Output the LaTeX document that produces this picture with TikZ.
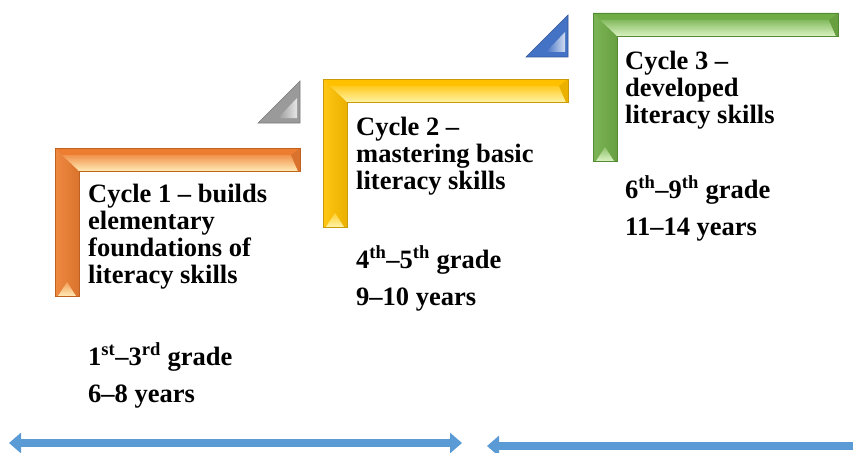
\documentclass[tikz,border=0pt]{standalone}
\usepackage{fontspec}
\setmainfont{Liberation Serif}
\usetikzlibrary{arrows.meta}

\definecolor{orBase}{HTML}{ED7D31}
\definecolor{orLight}{HTML}{FFEBB5}
\definecolor{orDark}{HTML}{C0621F}
\definecolor{yeBase}{HTML}{FFC000}
\definecolor{yeLight}{HTML}{FFF3A6}
\definecolor{yeDark}{HTML}{C99A0A}
\definecolor{grBase}{HTML}{70AD47}
\definecolor{grLight}{HTML}{D9F2C2}
\definecolor{grDark}{HTML}{548A33}
\definecolor{tgBase}{HTML}{9A9A9A}
\definecolor{tgDark}{HTML}{7A7A7A}
\definecolor{tbBase}{HTML}{4472C4}
\definecolor{tbDark}{HTML}{2F5597}
\definecolor{arrowBlue}{HTML}{5B9BD5}

% one bevelled corner step, top-left corner at (#1,#2)
\newcommand\cornerstep[5]{%
  \begin{scope}[shift={(#1,#2)}]
    \fill[#3] (0,0) -- (245,0) -- (245,23) -- (24,23) -- (24,148) -- (0,148) -- cycle;
    \shade[left color=#3!88!#4, right color=#3!92!black]
      (0,0) -- (24,23) -- (24,148) -- (0,148) -- cycle;
    \shade[top color=#3!80!#4, bottom color=#4]
      (7,7) -- (236,7) -- (243,23) -- (24,23) -- cycle;
    \fill[#3!92!black] (236,7) -- (245,0) -- (245,23) -- (243,23) -- cycle;
    \shade[top color=#3!70!#4, bottom color=#4]
      (12,134) -- (21,148) -- (3,148) -- cycle;
    \draw[#5, line width=0.7]
      (0,0) -- (245,0) -- (245,23) -- (24,23) -- (24,148) -- (0,148) -- cycle;
  \end{scope}}

% small bevelled right triangle, right angle at bottom-right (#1,#2)
\newcommand\cornertri[4]{%
  \begin{scope}[shift={(#1,#2)}]
    \fill[#3] (-42,0) -- (0,0) -- (0,-42) -- cycle;
    \shade[left color=#3, right color=#3!25!white]
      (-22,-5) -- (-3,-5) -- (-3,-25) -- cycle;
    \draw[#4, line width=0.6] (-42,0) -- (0,0) -- (0,-42) -- cycle;
  \end{scope}}

\tikzset{
  title/.style={anchor=base west, inner sep=0pt, align=left,
    font=\bfseries\fontsize{26.5}{27}\selectfont},
  grade/.style={anchor=base west, inner sep=0pt, align=left,
    font=\bfseries\fontsize{26.5}{27}\selectfont},
  timeline/.style={arrowBlue, line width=8.5pt},
  blocktip/.tip={Triangle[width=20pt, length=12pt]}
}

\begin{document}
\begin{tikzpicture}[x=1pt, y=-1pt]
  \useasboundingbox (0,0) rectangle (853,452);

  % steps and their markers
  \cornerstep{55}{148}{orBase}{orLight}{orDark}
  \cornerstep{323}{79}{yeBase}{yeLight}{yeDark}
  \cornerstep{593}{13}{grBase}{grLight}{grDark}
  \cornertri{300}{123}{tgBase}{tgDark}
  \cornertri{568}{57}{tbBase}{tbDark}

  % cycle titles (anchored on the baseline of their last line)
  \node[title] (c1) at (88,283) {Cycle 1 – builds\\elementary\\foundations of\\literacy skills};
  \node[title] (c2) at (356,189) {Cycle 2 –\\mastering basic\\literacy skills};
  \node[title] (c3) at (625,123) {Cycle 3 –\\developed\\literacy skills};

  % grades and ages
  \node[grade] (g1) at (88,402) {1\textsuperscript{st}–3\textsuperscript{rd} grade\\[10pt]6–8 years};
  \node[grade] (g2) at (356,305) {4\textsuperscript{th}–5\textsuperscript{th} grade\\[10pt]9–10 years};
  \node[grade] (g3) at (625,235) {6\textsuperscript{th}–9\textsuperscript{th} grade\\[10pt]11–14 years};

  % timeline arrows
  \coordinate (la) at (9,443);
  \coordinate (lb) at (462,443);
  \coordinate (ra) at (487,446);
  \coordinate (rb) at (875,446);
  \draw[timeline, blocktip-blocktip] (la) -- (lb);
  \draw[timeline, blocktip-] (ra) -- (rb);
\end{tikzpicture}
\end{document}
